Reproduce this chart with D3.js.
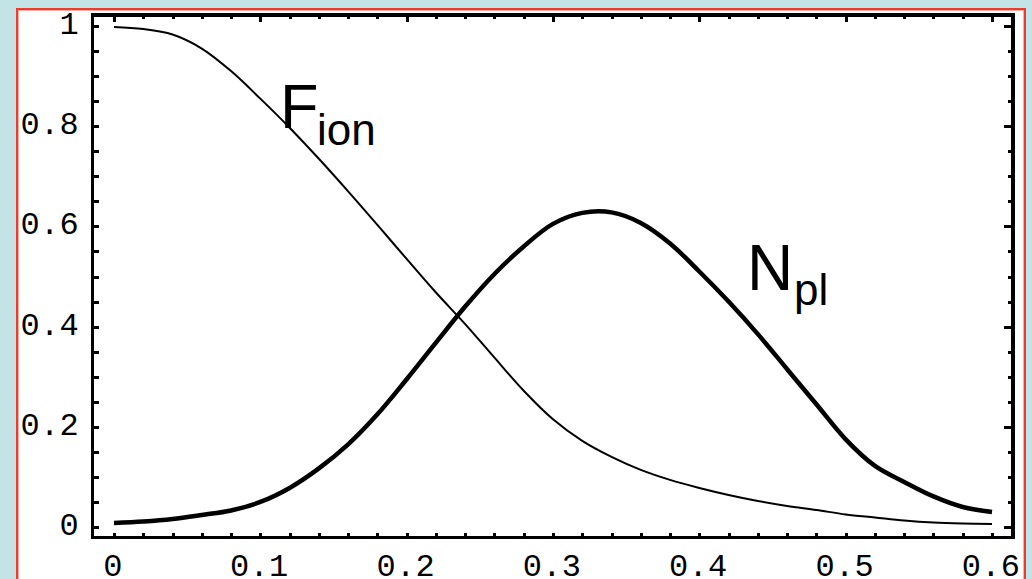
<!DOCTYPE html>
<html>
<head>
<meta charset="utf-8">
<script src="https://cdn.jsdelivr.net/npm/d3@7"></script>
<style>
  html, body { margin: 0; padding: 0; background: #c3e4e6; }
  svg { display: block; }
  .tick-label { font-family: "Liberation Mono", "DejaVu Sans Mono", monospace; font-size: 32px; letter-spacing: 0.3px; fill: #000; }
  .curve-label { font-family: "Liberation Sans", Arial, sans-serif; fill: #000; }
</style>
</head>
<body>
<svg id="chart" width="1032" height="579"></svg>
<script>
// Sample points along the x axis
const xs = [0, 0.02, 0.04, 0.06, 0.08, 0.10, 0.12, 0.14, 0.16, 0.18, 0.20,
            0.22, 0.24, 0.26, 0.28, 0.30, 0.32, 0.34, 0.36, 0.38, 0.40,
            0.42, 0.44, 0.46, 0.48, 0.50, 0.52, 0.54, 0.56, 0.58, 0.60];

// Ionized fraction (thin curve)
const fIon = [0.998, 0.994, 0.983, 0.955, 0.910, 0.855, 0.797, 0.735, 0.670, 0.603, 0.535,
              0.468, 0.405, 0.338, 0.272, 0.215, 0.172, 0.140, 0.114, 0.094, 0.078,
              0.064, 0.052, 0.042, 0.034, 0.025, 0.019, 0.013, 0.009, 0.007, 0.006];

// Plasma population (thick curve)
const nPl = [0.008, 0.011, 0.016, 0.024, 0.033, 0.050, 0.078, 0.117, 0.165, 0.225, 0.295,
             0.368, 0.440, 0.505, 0.560, 0.605, 0.627, 0.628, 0.607, 0.566, 0.510,
             0.450, 0.385, 0.315, 0.245, 0.175, 0.122, 0.090, 0.061, 0.040, 0.030];

const xMajor = [0, 0.1, 0.2, 0.3, 0.4, 0.5, 0.6];
const xTickLabels = ["0", "0.1", "0.2", "0.3", "0.4", "0.5", "0.6"];
const yMajor = [0, 0.2, 0.4, 0.6, 0.8, 1];
const yTickLabels = ["0", "0.2", "0.4", "0.6", "0.8", "1"];
const xMinor = d3.range(0, 31).map(i => i * 0.02);
const yMinor = d3.range(0, 21).map(i => i * 0.05);

const svg = d3.select("#chart");

// White panel with red outline
svg.append("rect").attr("x", 16).attr("y", 8).attr("width", 1010).attr("height", 620).attr("fill", "#fff");
svg.append("rect").attr("x", 18.5).attr("y", 10.5).attr("width", 1005).attr("height", 620)
  .attr("fill", "none").attr("stroke", "#f7b0a8").attr("stroke-width", 1);
svg.append("rect").attr("x", 17).attr("y", 9).attr("width", 1008).attr("height", 620)
  .attr("fill", "none").attr("stroke", "#ee3b2b").attr("stroke-width", 2);

const x = d3.scaleLinear().domain([0, 0.6]).range([114, 992]);
const y = d3.scaleLinear().domain([0, 1]).range([527, 26]);

// Frame box around the plot
const frame = { left: 92.5, right: 1013, top: 15, bottom: 537.5 };

const g = svg.append("g");

// Frame ticks, all pointing inward
const isMajor = (v, list) => list.some(m => Math.abs(m - v) < 1e-9);
const tickG = g.append("g").attr("stroke", "#000").attr("shape-rendering", "crispEdges");

xMinor.forEach(v => {
  const px = Math.round(x(v));
  const major = isMajor(v, xMajor);
  tickG.append("line").attr("x1", px).attr("x2", px)
    .attr("y1", frame.bottom).attr("y2", frame.bottom - 5).attr("stroke-width", 3);
  tickG.append("line").attr("x1", px).attr("x2", px)
    .attr("y1", frame.top).attr("y2", frame.top + (major ? 7 : 4)).attr("stroke-width", 3);
});
yMinor.forEach(v => {
  const py = Math.round(y(v));
  const major = isMajor(v, yMajor);
  tickG.append("line").attr("x1", frame.left).attr("x2", frame.left + 6)
    .attr("y1", py).attr("y2", py).attr("stroke-width", 3);
  tickG.append("line").attr("x1", frame.right).attr("x2", frame.right - (major ? 9 : 5))
    .attr("y1", py).attr("y2", py).attr("stroke-width", 3);
});

g.append("rect")
  .attr("x", frame.left).attr("y", frame.top)
  .attr("width", frame.right - frame.left).attr("height", frame.bottom - frame.top)
  .attr("fill", "none").attr("stroke", "#000").attr("stroke-width", 3.5)
  .attr("shape-rendering", "crispEdges");

// Tick labels
g.selectAll(".xl").data(xMajor).join("text")
  .attr("class", "tick-label")
  .attr("x", d => x(d) - 1)
  .attr("y", 576)
  .attr("text-anchor", "middle")
  .text((d, i) => xTickLabels[i]);

g.selectAll(".yl").data(yMajor).join("text")
  .attr("class", "tick-label")
  .attr("x", 79)
  .attr("y", d => y(d) + 8)
  .attr("text-anchor", "end")
  .text((d, i) => yTickLabels[i]);

// Curves
const line = d3.line().x(d => x(d[0])).y(d => y(d[1])).curve(d3.curveCatmullRom.alpha(0.5));

g.append("path")
  .datum(xs.map((v, i) => [v, fIon[i]]))
  .attr("d", line)
  .attr("fill", "none").attr("stroke", "#000").attr("stroke-width", 2);

g.append("path")
  .datum(xs.map((v, i) => [v, nPl[i]]))
  .attr("d", line)
  .attr("fill", "none").attr("stroke", "#000").attr("stroke-width", 4.5);

// Curve labels with subscripts
const fLab = g.append("text").attr("class", "curve-label").attr("x", 280).attr("y", 128);
fLab.append("tspan").attr("font-size", 63).text("F");
fLab.append("tspan").attr("font-size", 44).attr("x", 317).attr("y", 145).text("ion");

const nLab = g.append("text").attr("class", "curve-label").attr("x", 747).attr("y", 290);
nLab.append("tspan").attr("font-size", 64).text("N");
nLab.append("tspan").attr("font-size", 44).attr("x", 794).attr("y", 305).text("pl");
</script>
</body>
</html>
